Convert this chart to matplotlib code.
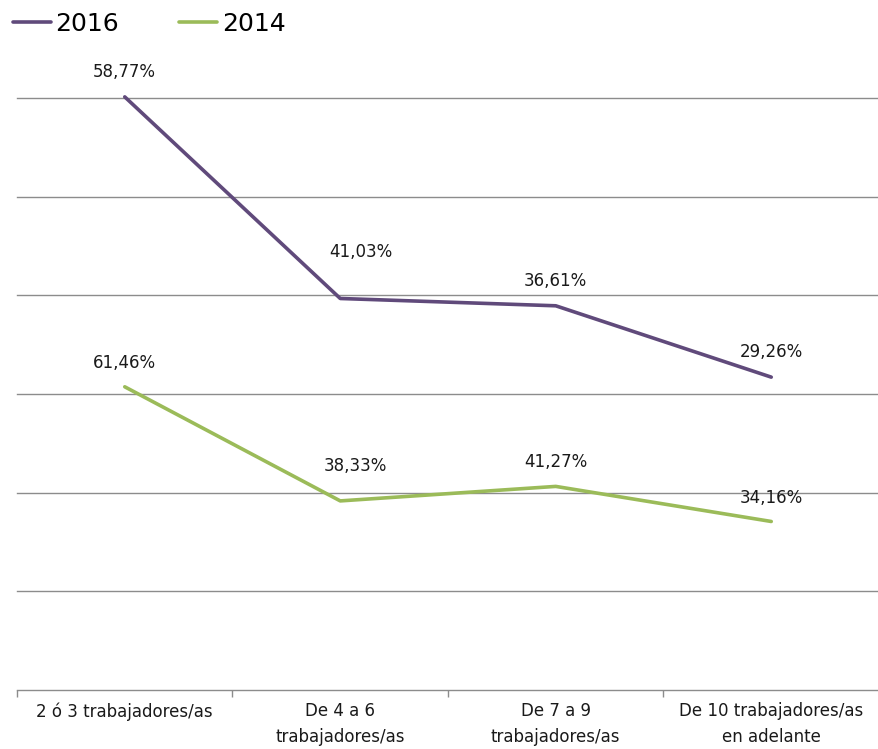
import matplotlib
matplotlib.use("Agg")
import matplotlib.pyplot as plt
from matplotlib.ticker import FixedLocator, NullFormatter

categories = ["2 ó 3 trabajadores/as", "De 4 a 6\ntrabajadores/as",
              "De 7 a 9\ntrabajadores/as", "De 10 trabajadores/as\nen adelante"]
v2014 = [61.46, 38.33, 41.27, 34.16]
v2016 = [58.77, 41.03, 36.61, 29.26]
labels2014 = ["61,46%", "38,33%", "41,27%", "34,16%"]
labels2016 = ["58,77%", "41,03%", "36,61%", "29,26%"]

c2016 = "#604A7B"
c2014 = "#9BBB59"

plt.rcParams['font.family'] = ['DejaVu Sans']

W, H = 879, 749
fig = plt.figure(figsize=(W/100, H/100), dpi=100)
ax = fig.add_axes([17/W, (H-690)/H, 862/W, 592/H])

x = list(range(len(categories)))
stack2016 = [a + b for a, b in zip(v2014, v2016)]

ax.set_xlim(-0.5, 3.5)
ax.set_ylim(0, 120)
for gy in [20, 40, 60, 80, 100, 120]:
    ax.axhline(gy, color="#8C8C8C", lw=1.0, zorder=1, clip_on=False)

l16, = ax.plot(x, stack2016, color=c2016, lw=2.6, solid_capstyle="round", zorder=3, clip_on=False)
l14, = ax.plot(x, v2014, color=c2014, lw=2.6, solid_capstyle="round", zorder=3, clip_on=False)

off16 = [(0, 25), (21, 46), (0, 25), (0, 25)]
off14 = [(0, 24), (15, 35), (0, 24), (0, 23)]
for xi, yi, t, (dx, dy) in zip(x, stack2016, labels2016, off16):
    ax.annotate(t, (xi, yi), xytext=(dx*0.72, dy*0.72), textcoords="offset points",
                ha="center", va="center", fontsize=12, color="#1a1a1a", annotation_clip=False)
for xi, yi, t, (dx, dy) in zip(x, v2014, labels2014, off14):
    ax.annotate(t, (xi, yi), xytext=(dx*0.72, dy*0.72), textcoords="offset points",
                ha="center", va="center", fontsize=12, color="#1a1a1a", annotation_clip=False)

for s in ["top", "right", "left"]:
    ax.spines[s].set_visible(False)
ax.spines["bottom"].set_color("#8C8C8C")
ax.spines["bottom"].set_linewidth(1.0)
ax.set_yticks([])
ax.set_xticks(x)
ax.set_xticklabels(categories, fontsize=12, linespacing=1.55, color="#1a1a1a", va="top")
ax.tick_params(axis="x", which="major", length=0, pad=9)
ax.xaxis.set_minor_locator(FixedLocator([-0.5, 0.5, 1.5, 2.5, 3.5]))
ax.xaxis.set_minor_formatter(NullFormatter())
ax.tick_params(axis="x", which="minor", length=5, color="#8C8C8C", width=1.0)

leg = fig.legend([l16, l14], ["2016", "2014"], loc="center left",
                 bbox_to_anchor=(13/W, 1 - 24/H), ncol=2, frameon=False,
                 fontsize=18, handlelength=1.5, handletextpad=0.2, columnspacing=2.4,
                 borderpad=0, borderaxespad=0)

fig.savefig("out.png", dpi=100)
